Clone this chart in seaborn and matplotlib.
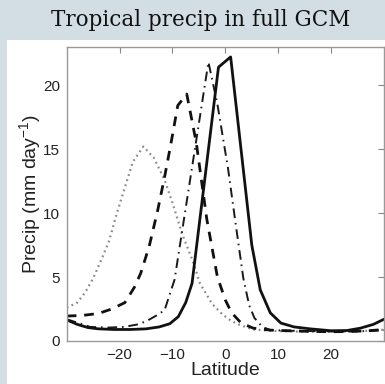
import numpy as np
import pandas as pd
import seaborn as sns
import matplotlib.pyplot as plt
from matplotlib.patches import Rectangle

# precip curves (lat in deg, precip in mm/day)
solid_lat = [-30, -28, -26, -24, -21, -18, -15, -12.5, -10.5, -8.9, -7.5, -6.3,
             -1.3, 1.0, 5.0, 6.6, 8.5, 10.5, 13, 16, 20, 23, 25.5, 28, 30]
solid_pr = [1.65, 1.3, 1.05, 0.95, 0.9, 0.9, 0.95, 1.1, 1.35, 1.9, 3.0, 4.5,
            21.4, 22.2, 7.5, 4.0, 2.2, 1.4, 1.1, 0.95, 0.8, 0.82, 1.0, 1.3, 1.7]

dash_lat = [-30, -27, -24, -21.5, -19, -17.2, -16, -14.4, -12.8, -11.5, -10.3, -9.0,
            -7.3, -5.5, -3.5, -1.5, 0, 1.2, 3, 5.3, 8.5, 12, 16, 20, 24, 27, 30]
dash_pr = [1.95, 2.0, 2.15, 2.5, 3.0, 4.2, 5.3, 7.4, 10.2, 12.8, 15.4, 18.4,
           19.3, 15.5, 9.5, 5.0, 3.2, 2.2, 1.4, 1.0, 0.85, 0.8, 0.75, 0.72, 0.75, 0.8, 0.9]

dashdot_lat = [-30, -27, -25.6, -22, -19.2, -16.5, -14.7, -13, -11.5, -9.6,
               -3.2, -1.5, 0.5, 2, 3.4, 4.5, 5.5, 7, 8.5, 12, 16, 20, 24, 27, 30]
dashdot_pr = [1.7, 1.3, 1.1, 1.05, 1.1, 1.3, 1.6, 2.0, 2.4, 4.8,
              21.8, 18.5, 13.5, 9.0, 4.9, 2.8, 1.8, 1.1, 0.86, 0.8, 0.78, 0.75, 0.75, 0.78, 0.85]

dot_lat = [-30, -28, -26.5, -25, -23.5, -22, -20.5, -19, -17.5, -15.5, -13.5, -11.5,
           -10, -8.2, -6.2, -4.8, -2.5, -0.6, 1, 2.75, 5.3, 8.5, 12, 16, 20, 24, 27, 30]
dot_pr = [2.6, 3.0, 3.8, 4.9, 6.3, 7.8, 10.0, 12.0, 14.0, 15.2, 14.3, 12.6,
          10.8, 8.4, 6.3, 4.5, 2.9, 2.1, 1.6, 1.25, 0.9, 0.8, 0.75, 0.72, 0.72, 0.75, 0.8, 0.88]

sns.set_style('white')
plt.rcParams['font.family'] = ['Liberation Sans', 'DejaVu Sans']
plt.rcParams['mathtext.fontset'] = 'custom'
plt.rcParams['mathtext.rm'] = 'Liberation Sans'
plt.rcParams['mathtext.it'] = 'Liberation Sans:italic'

bg = '#d2dde4'
fig = plt.figure(figsize=(3.85, 3.84), dpi=100, facecolor=bg)
fig.patches.append(Rectangle((7 / 385, 0), 1, (384 - 40) / 384, transform=fig.transFigure,
                             facecolor='white', edgecolor='none', zorder=-5))
fig.text(0.52, 0.948, 'Tropical precip in full GCM', ha='center', va='center',
         fontsize=15.5, family='DejaVu Serif', color='#111111')

ax = fig.add_axes([66.7 / 385, (384 - 341) / 384, (384 - 66.7) / 385, (341 - 46.7) / 384])
ax.set_zorder(2)

sns.lineplot(x=dot_lat, y=dot_pr, ax=ax, color='#8a8a8a', lw=1.6, linestyle=(0, (0.8, 1.6)))
sns.lineplot(x=dashdot_lat, y=dashdot_pr, ax=ax, color='#1a1a1a', lw=1.4,
             linestyle=(0, (5, 2.5, 0.8, 2.5)))
sns.lineplot(x=dash_lat, y=dash_pr, ax=ax, color='#111111', lw=2.0, linestyle=(0, (3.5, 2.8)))
sns.lineplot(x=solid_lat, y=solid_pr, ax=ax, color='#111111', lw=2.0)

ax.set_xlim(-30, 30)
ax.set_ylim(0, 23)
ax.set_xticks([-20, -10, 0, 10, 20])
ax.set_yticks([0, 5, 10, 15, 20])
ax.tick_params(direction='in', length=4, width=0.8, color='#888888', labelsize=11,
               top=True, right=True, pad=5, labelcolor='#222222')
for s in ax.spines.values():
    s.set_color('#999999')
    s.set_linewidth(1.0)
ax.set_xlabel('Latitude', fontsize=14, labelpad=0, color='#222222')
ax.set_ylabel('Precip (mm day$^{-1}$)', fontsize=14, labelpad=0, color='#222222')

fig.savefig('out.png', dpi=100, facecolor=bg)
